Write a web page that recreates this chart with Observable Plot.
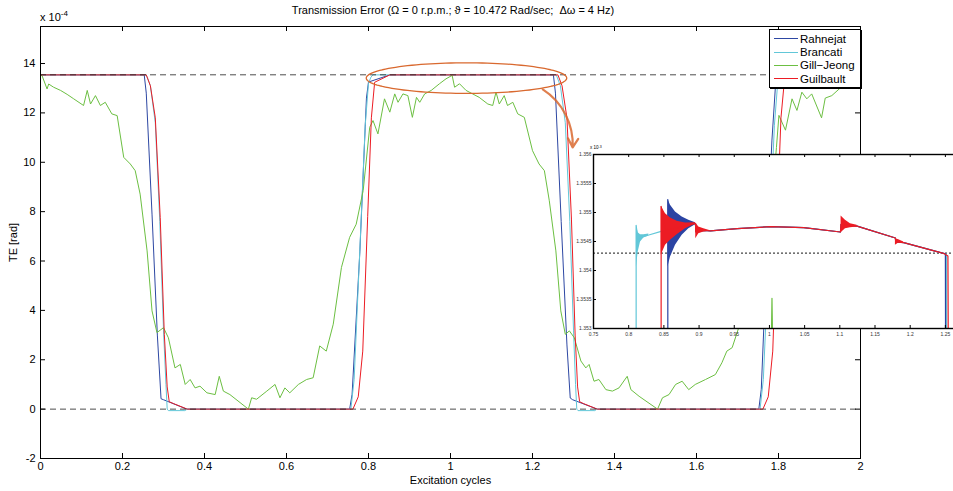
<!DOCTYPE html>
<html><head><meta charset="utf-8">
<script src="https://cdn.jsdelivr.net/npm/d3@7"></script>
<script src="https://cdn.jsdelivr.net/npm/@observablehq/plot@0.6"></script>
<style>
html,body{margin:0;padding:0;background:#fff;overflow:hidden}
#wrap{position:relative;width:953px;height:491px;overflow:hidden;font-family:"Liberation Sans",Arial,Helvetica,sans-serif;color:#000}
#wrap svg{position:absolute;overflow:visible}
#title{position:absolute;left:0;width:906px;top:4px;text-align:center;font-size:11px;white-space:pre}
#expo{position:absolute;left:40px;top:11px;font-size:11px}
#expo sup{font-size:8px;position:relative;top:-2px;vertical-align:top}
#expo3{position:absolute;left:590px;top:145px;font-size:4.5px}
#expo3 sup{font-size:3.5px;vertical-align:top}
#legend{position:absolute;left:769px;top:29px;width:90px;height:57px;border:1px solid #000;background:#fff;font-size:11.5px;box-shadow:1px 1px 0 #000}
.li{position:absolute;left:4px;height:13px;line-height:13px;white-space:nowrap}
.li i{display:inline-block;width:24px;height:1px;vertical-align:middle;margin-right:2px;position:relative;top:-1px}
</style></head><body><div id="wrap"></div>
<script>
// ---------- data (TE in 1e-4 rad for main plot) ----------
const seriesNames = ["Rahnejat", "Brancati", "Gill\u2212Jeong", "Guilbault"];
const seriesColors = ["#2d47a3", "#62c7d8", "#6cbf42", "#ec1c24"];
const refLevel = 13.543;
const xTicks = [0, 0.2, 0.4, 0.6, 0.8, 1, 1.2, 1.4, 1.6, 1.8, 2];
const yTicks = [-2, 0, 2, 4, 6, 8, 10, 12, 14];

const rahnejat = [[0,13.54],[0.253,13.54],[0.258,12.8],[0.272,7.9],[0.285,3.0],[0.294,0.42],[0.300,0.38],[0.357,0],
  [0.754,0],[0.760,0.6],[0.779,6.4],[0.795,12.6],[0.800,13.25],[0.852,13.54],
  [1.251,13.54],[1.256,12.8],[1.270,7.6],[1.284,2.6],[1.292,0.45],[1.298,0.38],[1.358,0],
  [1.752,0],[1.758,0.8],[1.772,6.5],[1.784,10.9],[1.793,13.2],[1.850,13.54],[2,13.54]];
const brancati = [[0,13.54],[0.258,13.54],[0.268,13.1],[0.280,11.6],[0.291,7.6],[0.300,3.2],[0.306,1.0],[0.309,0],[0.312,-0.06],[0.352,-0.06],[0.358,0],
  [0.757,0],[0.765,1.2],[0.779,6.5],[0.792,11.5],[0.800,13.2],[0.806,13.45],[0.811,13.54],
  [1.258,13.54],[1.268,13.1],[1.280,11.6],[1.291,7.6],[1.300,3.2],[1.305,1.0],[1.308,0],[1.311,-0.06],[1.352,-0.06],[1.357,0],
  [1.755,0],[1.763,1.2],[1.777,6.5],[1.790,11.5],[1.798,13.2],[1.804,13.45],[1.810,13.54],[2,13.54]];
const guilbault = [[0,13.54],[0.258,13.54],[0.268,13.1],[0.280,11.8],[0.292,7.76],[0.302,3.03],[0.309,0.9],[0.314,0.3],[0.325,0.22],[0.358,0],
  [0.762,0],[0.775,0.5],[0.786,2.35],[0.798,7.8],[0.807,11.8],[0.815,13.24],[0.852,13.54],
  [1.262,13.54],[1.272,13.1],[1.284,11.8],[1.295,7.7],[1.304,3.0],[1.310,0.9],[1.315,0.3],[1.325,0.22],[1.358,0],
  [1.762,0],[1.775,0.5],[1.786,2.35],[1.797,7.8],[1.806,11.8],[1.814,13.24],[1.852,13.54],[2,13.54]];
const gillJeong = [[0,13.54],[0.004,13.5],[0.016,12.97],[0.020,13.17],[0.032,13.04],[0.049,12.91],[0.065,12.75],[0.081,12.57],[0.105,12.30],[0.114,12.91],[0.122,12.36],[0.134,12.70],[0.146,12.30],[0.158,12.43],[0.174,11.96],[0.187,11.89],[0.203,10.20],[0.219,9.93],[0.231,9.66],[0.243,8.71],[0.260,6.41],[0.272,3.98],[0.284,3.10],[0.300,3.30],[0.312,2.89],[0.328,1.67],[0.341,1.81],[0.353,1.00],[0.365,1.20],[0.377,0.86],[0.389,0.93],[0.406,0.66],[0.426,0.59],[0.436,1.33],[0.446,0.73],[0.462,0.59],[0.507,0.0],[0.515,0.46],[0.527,0.40],[0.552,0.73],[0.572,1.00],[0.584,0.46],[0.596,0.86],[0.608,0.66],[0.629,1.00],[0.649,1.20],[0.665,1.27],[0.681,2.56],[0.697,2.35],[0.714,3.44],[0.734,5.74],[0.754,6.96],[0.770,7.49],[0.787,8.85],[0.803,11.42],[0.811,11.69],[0.823,11.15],[0.839,12.57],[0.852,12.03],[0.864,12.77],[0.872,12.43],[0.884,12.77],[0.896,12.70],[0.907,11.82],[0.917,12.63],[0.925,12.43],[0.937,12.77],[0.953,12.91],[0.973,13.18],[0.989,13.38],[1.004,13.52],[1.010,13.04],[1.022,13.18],[1.038,12.91],[1.054,12.77],[1.070,12.63],[1.091,12.36],[1.103,12.30],[1.111,12.84],[1.119,12.36],[1.131,12.70],[1.139,12.30],[1.152,12.43],[1.164,11.96],[1.180,11.82],[1.200,10.47],[1.216,9.93],[1.229,9.66],[1.241,8.44],[1.257,6.41],[1.269,3.98],[1.280,3.03],[1.290,3.17],[1.302,2.89],[1.318,1.95],[1.330,1.67],[1.338,1.81],[1.350,1.13],[1.362,1.20],[1.379,0.79],[1.395,0.73],[1.411,0.86],[1.431,1.33],[1.440,0.79],[1.460,0.52],[1.505,0.0],[1.517,0.46],[1.533,0.59],[1.549,1.00],[1.565,1.13],[1.581,0.79],[1.597,1.00],[1.622,1.20],[1.646,1.40],[1.662,1.88],[1.674,2.35],[1.687,2.49],[1.703,3.30],[1.720,4.4],[1.737,5.8],[1.756,7.0],[1.772,7.6],[1.787,9.0],[1.795,10.6],[1.801,11.9],[1.817,11.3],[1.833,12.57],[1.845,12.1],[1.857,12.84],[1.869,12.57],[1.881,12.77],[1.905,11.8],[1.914,12.6],[1.930,12.7],[1.950,13.0],[1.970,13.2],[1.990,13.3],[2.0,13.4]];

// annotation (data units)
const ellipseCenter = [1.039, 13.41];
const ellipseRadii = [0.2445, 0.62];
const arrowAnno = [{x1: 1.225, y1: 12.95, x2: 1.298, y2: 10.6}];

// ---------- inset data (TE in 1e-3 rad) ----------
const insetXTicks = [0.75, 0.8, 0.85, 0.9, 0.95, 1, 1.05, 1.1, 1.15, 1.2, 1.25];
const insetYTicks = [1.353, 1.3535, 1.354, 1.3545, 1.355, 1.3555, 1.356];
const insetRef = 1.35430;
const insetTail = [[0.8949,1.354810],[0.8953,1.354668],[0.9067,1.354690],[0.9162,1.354684],[0.9541,1.354721],[1.0014,1.354756],[1.0488,1.354739],[1.1009,1.354664],[1.1018,1.354796],[1.1245,1.354764],[1.1790,1.354560],[1.1795,1.354491],[1.1908,1.354480],[1.2486,1.354290]];
const rahnejatInset = [[0.8556,1.353],[0.8556,1.355222],[0.8594,1.354678],[0.8665,1.354720],[0.8760,1.354760],[0.8854,1.354790]].concat(insetTail, [[1.2500,1.354290],[1.2502,1.353]]);
const brancatiInset = [[0.8106,1.353],[0.8106,1.354779],[0.8135,1.354485],[0.8168,1.354555],[0.8215,1.354589],[0.8286,1.354612],[0.8461,1.354675]].concat(insetTail, [[1.2515,1.354280],[1.2517,1.353]]);
const guilbaultInset = [[0.8461,1.353],[0.8461,1.355107],[0.8523,1.354707],[0.8594,1.354713],[0.8688,1.354733],[0.8807,1.354770]].concat(insetTail, [[1.2536,1.354250],[1.2540,1.353]]);
const gillJeongInset = [[1.0030,1.353],[1.0036,1.35352],[1.0042,1.353]];
// oscillation envelopes [x, low, high]
const brancatiEnv = [[0.8110,1.354059,1.354779],[0.8135,1.354318,1.354652],[0.8168,1.354491,1.354618],[0.8215,1.354560,1.354618],[0.8286,1.354594,1.354629]];
const rahnejatEnv = [[0.8558,1.354059,1.355222],[0.8594,1.354232,1.355124],[0.8665,1.354434,1.355009],[0.8760,1.354606,1.354923],[0.8854,1.354721,1.354865],[0.8949,1.354790,1.354825]];
const guilbaultEnvs = [
  [[0.8463,1.354261,1.355107],[0.8523,1.354434,1.354980],[0.8594,1.354520,1.354906],[0.8688,1.354618,1.354848],[0.8807,1.354721,1.354819],[0.8949,1.354802,1.354825]],
  [[0.8953,1.354549,1.354825],[0.8996,1.354635,1.354750],[0.9067,1.354664,1.354721],[0.9162,1.354681,1.354687]],
  [[1.1018,1.354652,1.354940],[1.1080,1.354721,1.354865],[1.1151,1.354739,1.354808],[1.1245,1.354750,1.354779]],
  [[1.1790,1.354434,1.354549],[1.1837,1.354474,1.354531],[1.1908,1.354468,1.354491]]
];

// ---------- main plot ----------
const FONT = '"Liberation Sans", Arial, Helvetica, sans-serif';
const W = 953, H = 491, mL = 40, mR = 93, mT = 26, mB = 33;
const pW = W - mL - mR, pH = H - mT - mB;
const ORANGE = "#d9692f";
const ellipsePts = d3.range(0, 361, 3).map(a => [ellipseCenter[0] + ellipseRadii[0] * Math.cos(a * Math.PI / 180), ellipseCenter[1] + ellipseRadii[1] * Math.sin(a * Math.PI / 180)]);
const X = d => d[0], Y = d => d[1];
const lineOf = (data, i) => Plot.line(data, {x: X, y: Y, stroke: seriesColors[i], strokeWidth: 1});

const main = Plot.plot({
  width: W, height: H, marginLeft: mL, marginRight: mR, marginTop: mT, marginBottom: mB,
  style: {fontFamily: FONT, fontSize: "11px", color: "#000", background: "transparent", overflow: "visible"},
  x: {domain: [0, 2]},
  y: {domain: [-2, 15.5]},
  marks: [
    Plot.frame({fill: "#fff"}),
    lineOf(rahnejat, 0),
    lineOf(brancati, 1),
    lineOf(gillJeong, 2),
    lineOf(guilbault, 3),
    Plot.ruleY([refLevel, 0], {stroke: "#222", strokeOpacity: 0.8, strokeDasharray: "6,4"}),
    Plot.line(ellipsePts, {x: X, y: Y, stroke: ORANGE, strokeWidth: 1.3}),
    Plot.arrow(arrowAnno, {x1: "x1", y1: "y1", x2: "x2", y2: "y2", bend: 30, stroke: ORANGE, strokeWidth: 2.2, strokeOpacity: 0.85, headLength: 7}),
    Plot.ruleX(xTicks, {insetTop: pH - 5, stroke: "#000"}),
    Plot.ruleX(xTicks, {insetBottom: pH - 5, stroke: "#000"}),
    Plot.ruleY(yTicks, {insetRight: pW - 5, stroke: "#000"}),
    Plot.ruleY(yTicks, {insetLeft: pW - 5, stroke: "#000"}),
    Plot.frame({stroke: "#000"}),
    Plot.axisX({ticks: xTicks, tickSize: 0, tickPadding: 4, tickFormat: d => String(d), label: "Excitation cycles", labelAnchor: "center", labelOffset: 25, labelArrow: "none"}),
    Plot.axisY({ticks: yTicks, tickSize: 0, tickPadding: 5, tickFormat: d => String(d), label: "TE [rad]", labelAnchor: "center", labelOffset: 31, labelArrow: "none"})
  ]
});

// ---------- inset plot ----------
const iL = 25, iT = 8, iB = 12, iW = 373, iH = 174;
const inset = Plot.plot({
  width: iL + iW, height: iT + iH + iB, marginLeft: iL, marginRight: 0, marginTop: iT, marginBottom: iB,
  style: {fontFamily: FONT, fontSize: "5px", color: "#333", background: "transparent", overflow: "visible"},
  x: {domain: [0.75, 1.28]},
  y: {domain: [1.353, 1.356]},
  marks: [
    Plot.frame({fill: "#fff"}),
    Plot.ruleY([insetRef], {stroke: "#444", strokeWidth: 1.3, strokeDasharray: "2,2"}),
    Plot.areaY(brancatiEnv, {x: d => d[0], y1: d => d[1], y2: d => d[2], fill: seriesColors[1]}),
    Plot.line(brancatiInset, {x: X, y: Y, stroke: seriesColors[1], strokeWidth: 1.2}),
    Plot.areaY(rahnejatEnv, {x: d => d[0], y1: d => d[1], y2: d => d[2], fill: "#2b44a3"}),
    Plot.line(rahnejatInset, {x: X, y: Y, stroke: "#2b44a3", strokeWidth: 1.2}),
    Plot.line(gillJeongInset, {x: X, y: Y, stroke: seriesColors[2], strokeWidth: 1.2}),
    ...guilbaultEnvs.map(env => Plot.areaY(env, {x: d => d[0], y1: d => d[1], y2: d => d[2], fill: seriesColors[3]})),
    Plot.line(guilbaultInset, {x: X, y: Y, stroke: seriesColors[3], strokeWidth: 1.2}),
    Plot.ruleX(insetXTicks, {insetTop: iH - 3, stroke: "#000"}),
    Plot.ruleX(insetXTicks, {insetBottom: iH - 3, stroke: "#000"}),
    Plot.ruleY(insetYTicks, {insetRight: iW - 3, stroke: "#000"}),
    Plot.frame({stroke: "#000", strokeWidth: 1.4}),
    Plot.axisX({ticks: insetXTicks, tickSize: 0, tickPadding: 3.5, tickFormat: d3.format("~g"), label: null}),
    Plot.axisY({ticks: insetYTicks, tickSize: 0, tickPadding: 2, tickFormat: d3.format("~g"), label: null})
  ]
});

const wrap = document.getElementById("wrap");
main.style.left = "0px"; main.style.top = "0px";
wrap.appendChild(main);
inset.style.left = (593 - iL) + "px"; inset.style.top = (154 - iT) + "px";
wrap.appendChild(inset);

const title = document.createElement("div");
title.id = "title";
title.textContent = "Transmission Error (\u03A9 = 0 r.p.m.; \u03D1 = 10.472 Rad/sec;  \u0394\u03C9 = 4 Hz)";
wrap.appendChild(title);

const expo = document.createElement("div");
expo.id = "expo"; expo.innerHTML = "x 10<sup>-4</sup>";
wrap.appendChild(expo);
const expo3 = document.createElement("div");
expo3.id = "expo3"; expo3.innerHTML = "x 10<sup>-3</sup>";
wrap.appendChild(expo3);

const legend = document.createElement("div");
legend.id = "legend";
seriesNames.forEach((n, i) => {
  const it = document.createElement("div");
  it.className = "li";
  it.style.top = (3 + i * 13.2) + "px";
  it.innerHTML = `<i style="background:${seriesColors[i]}"></i>${n}`;
  legend.appendChild(it);
});
wrap.appendChild(legend);
</script></body></html>
